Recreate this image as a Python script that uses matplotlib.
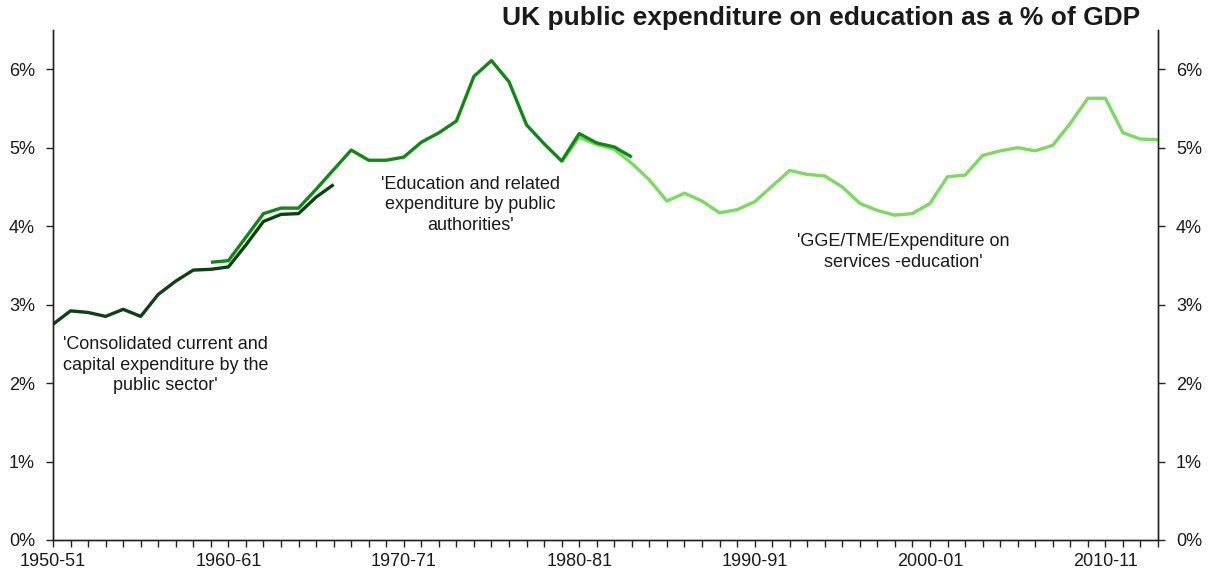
import numpy as np
import matplotlib
matplotlib.use("Agg")
import matplotlib.pyplot as plt
from matplotlib.ticker import FuncFormatter, MultipleLocator

plt.rcParams['font.family'] = ['Liberation Sans', 'DejaVu Sans']

# Financial years 1950-51 .. 2013-14
first_year, last_year = 1950, 2013
years = [f"{y}-{str(y + 1)[-2:]}" for y in range(first_year, last_year + 1)]

# 'Consolidated current and capital expenditure by the public sector' (1950-51 to 1966-67)
consolidated_start = 1950
consolidated = [2.75, 2.92, 2.90, 2.85, 2.94, 2.85, 3.13, 3.30, 3.44, 3.45,
                3.48, 3.76, 4.06, 4.15, 4.16, 4.37, 4.53]

# 'Education and related expenditure by public authorities' (1959-60 to 1983-84)
authorities_start = 1959
authorities = [3.54, 3.56, 3.86, 4.16, 4.23, 4.23, 4.47, 4.72, 4.97, 4.84,
               4.84, 4.88, 5.07, 5.19, 5.34, 5.91, 6.11, 5.84, 5.29, 5.05,
               4.83, 5.18, 5.06, 5.01, 4.88]

# 'GGE/TME/Expenditure on services -education' (1979-80 to 2013-14)
gge_start = 1979
gge = [4.82, 5.13, 5.04, 4.98, 4.80, 4.59, 4.32, 4.42, 4.32, 4.17,
       4.21, 4.31, 4.51, 4.71, 4.66, 4.64, 4.50, 4.29, 4.20, 4.14,
       4.16, 4.29, 4.63, 4.65, 4.90, 4.96, 5.00, 4.96, 5.03, 5.31,
       5.63, 5.63, 5.19, 5.11, 5.10]

c_dark = '#0c4212'
c_mid = '#0e8a12'
c_light = '#79dc5c'
txt = '#1a1a1a'

fig = plt.figure(figsize=(12.08, 5.73), dpi=100)
ax = fig.add_axes([53 / 1208, 1 - 540 / 573, (1158 - 53) / 1208, (540 - 30) / 573])


def xs(start, values):
    return np.arange(len(values)) + (start - first_year)


ax.plot(xs(gge_start, gge), gge, color=c_light, lw=2.4, zorder=2,
        solid_joinstyle='round', solid_capstyle='butt')
ax.plot(xs(authorities_start, authorities), authorities, color=c_mid, lw=2.4, zorder=3,
        solid_joinstyle='round', solid_capstyle='butt')
ax.plot(xs(consolidated_start, consolidated), consolidated, color=c_dark, lw=2.4, zorder=4,
        solid_joinstyle='round', solid_capstyle='butt')

ax.set_xlim(0, len(years) - 1)
ax.set_ylim(0, 6.5)

# x axis: a tick every year, a label every ten years
ax.set_xticks(np.arange(len(years)))
ax.set_xticklabels([lab if i % 10 == 0 else '' for i, lab in enumerate(years)])
ax.yaxis.set_major_locator(MultipleLocator(1))
pct = FuncFormatter(lambda v, p: f"{v:.0f}%")
ax.yaxis.set_major_formatter(pct)

ax2 = ax.twinx()
ax2.set_ylim(ax.get_ylim())
ax2.yaxis.set_major_locator(MultipleLocator(1))
ax2.yaxis.set_major_formatter(pct)

for a in (ax, ax2):
    a.spines['top'].set_visible(False)
    for s in a.spines.values():
        s.set_color('#222222')
        s.set_linewidth(1.0)
    a.tick_params(direction='out', length=5, width=1.0, color='#222222',
                  labelsize=13, labelcolor=txt, pad=8)
ax.tick_params(axis='x', pad=4)

# series annotations
note = dict(ha='center', va='center', fontsize=13, color=txt, linespacing=1.3)
ax.text(6.4, 2.23, "'Consolidated current and\ncapital expenditure by the\npublic sector'", **note)
ax.text(23.8, 4.27, "'Education and related\nexpenditure by public\nauthorities'", **note)
ax.text(48.5, 3.67, "'GGE/TME/Expenditure on\nservices -education'", **note)

fig.text(1140 / 1208, 1 - 18 / 573, 'UK public expenditure on education as a % of GDP',
         ha='right', va='center', fontsize=19, fontweight='bold', color=txt)

fig.savefig('out.png', dpi=100, facecolor='white')
